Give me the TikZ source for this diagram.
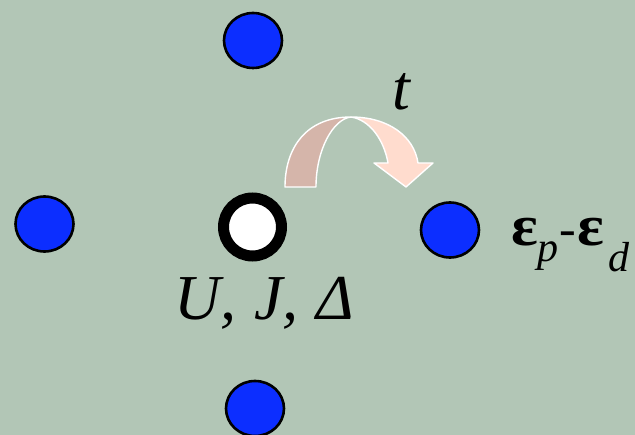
\documentclass[tikz,border=0pt]{standalone}
\usepackage{fontspec}
\setmainfont{Liberation Serif}
\usetikzlibrary{shapes.geometric}
\definecolor{bgcol}{RGB}{178,198,182}
\definecolor{sitecol}{RGB}{12,46,255}
\definecolor{archback}{RGB}{213,181,170}
\definecolor{archfront}{RGB}{255,220,206}
\newcommand{\epsbig}{\scalebox{1.08}[1]{\fontsize{58}{60}\selectfont\bfseries ε}}
\newcommand{\subsc}[2]{\raisebox{-#1pt}{\fontsize{42}{44}\selectfont\itshape #2}}
\tikzset{
  site/.style={ellipse, draw=black, line width=2.6pt, fill=sitecol,
    minimum width=58pt, minimum height=55pt, inner sep=0pt},
  centre/.style={circle, draw=black, line width=11pt, fill=white,
    minimum size=58pt, inner sep=0pt},
  label/.style={inner sep=0pt, anchor=base west, font=\fontsize{64}{66}\selectfont\itshape},
  archpart/.style={draw=white, line width=1.4pt, line join=round},
}
\begin{document}
\begin{tikzpicture}[x=1pt,y=-1pt]
  \fill[bgcol] (0,0) rectangle (635,435);
  \useasboundingbox (0,0) rectangle (635,435);

  % lattice sites
  \node[site] (top) at (253,40.5) {};
  \node[site] (left) at (44.5,224) {};
  \node[site] (right) at (450,230) {};
  \node[site] (bottom) at (255,408.5) {};
  \node[centre] (mid) at (252.5,227) {};

  % hopping arrow: back half of the arch
  \path[archpart, fill=archback]
    (285,187) .. controls (285,148) and (306,117) .. (351,117)
    .. controls (333,119) and (316,150) .. (316,187) -- cycle;
  % front half with the head
  \path[archpart, fill=archfront]
    (351,117) .. controls (388,117) and (414,136) .. (418,163)
    -- (433,163) -- (406,187) -- (374,163) -- (388,163)
    .. controls (384,140) and (370,120) .. (351,117) -- cycle;

  % labels
  \node[label] (tlab) at (392,110) {t};
  \node[label] (ujd) at (174,320) {U,\hspace{2pt} J,\hspace{2pt} Δ};
  \node[label, font=\fontsize{50}{54}\selectfont] (eps) at (511,246)
    {\epsbig\subsc{16}{p}\hspace{1pt}-\hspace{1pt}\epsbig\hspace{4pt}\subsc{26}{d}};
\end{tikzpicture}
\end{document}
